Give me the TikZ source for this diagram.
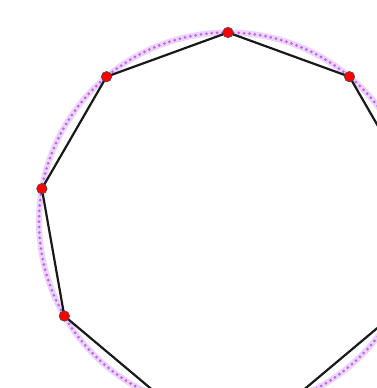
\documentclass[tikz,border=0pt]{standalone}
\usetikzlibrary{calc}
\definecolor{bandcol}{RGB}{238,212,252}
\definecolor{dotcol}{RGB}{185,100,240}
\tikzset{
  vtx/.style={circle,fill=red,draw=black!70,line width=0.6pt,inner sep=0pt,minimum size=10.5pt},
  edge/.style={black!90,line width=2.2pt},
  band/.style={bandcol,line width=6pt},
  dots/.style={dotcol,line width=3pt,line cap=round,dash pattern=on 0pt off 5.4pt}
}
\begin{document}
\begin{tikzpicture}[x=1pt,y=1pt]
\useasboundingbox (0,0) rectangle (376,388);
\coordinate (c) at (228,166.5);
\draw[band] (c) circle (189);
\draw[dots] (c) circle (189);
\foreach \i in {0,...,8} {
  \coordinate (p\i) at ($(c)+({10+40*\i}:189)$);
}
\draw[edge,line join=round] (p0) -- (p1) -- (p2) -- (p3) -- (p4) -- (p5) -- (p6) -- (p7) -- (p8) -- cycle;
\foreach \i in {0,...,8} {
  \node[vtx] (v\i) at (p\i) {};
}
\end{tikzpicture}
\end{document}
